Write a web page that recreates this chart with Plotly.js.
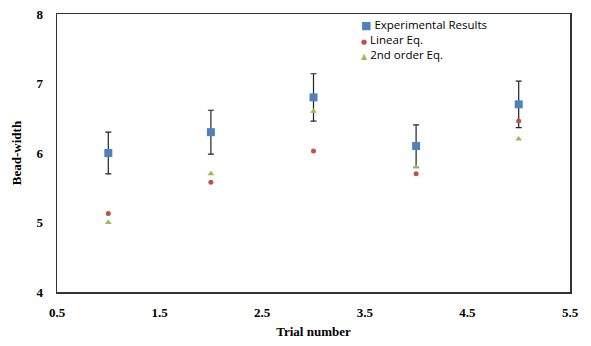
<!DOCTYPE html>
<html>
<head>
<meta charset="utf-8">
<script src="https://cdn.plot.ly/plotly-3.0.1.min.js"></script>
<style>html,body{margin:0;padding:0;background:#fff;}#chart{width:591px;height:346px;}</style>
</head>
<body>
<div id="chart"></div>
<script>
const trials = [1, 2, 3, 4, 5];
const experimental = [6.0, 6.3, 6.8, 6.1, 6.7];
const experimentalErr = [0.30, 0.315, 0.34, 0.305, 0.335];
const linearEq = [5.13, 5.58, 6.03, 5.70, 6.46];
const secondOrderEq = [5.0, 5.70, 6.60, 5.80, 6.20];
const xTicks = [0.5, 1.5, 2.5, 3.5, 4.5, 5.5];
const xTickLabels = ['0.5', '1.5', '2.5', '3.5', '4.5', '5.5'];
const yTicks = [4, 5, 6, 7, 8];
const seriesNames = ['Experimental Results', 'Linear Eq.', '2nd order Eq.'];
const seriesColors = ['#4F81BD', '#C0504D', '#9BBB59'];
const legendGlyphs = ['\u25A0', '\u25CF', '\u25B2'];
const legendGlyphSizes = [11, 7, 8];

const traces = [
  {
    x: trials, y: experimental, name: seriesNames[0], type: 'scatter', mode: 'markers',
    marker: {symbol: 'square', size: 8, color: seriesColors[0]},
    error_y: {type: 'data', array: experimentalErr, visible: true, color: '#222', thickness: 1.2, width: 3}
  },
  {
    x: trials, y: linearEq, name: seriesNames[1], type: 'scatter', mode: 'markers',
    marker: {symbol: 'circle', size: 5, color: seriesColors[1]}
  },
  {
    x: trials, y: secondOrderEq, name: seriesNames[2], type: 'scatter', mode: 'markers',
    marker: {symbol: 'triangle-up', size: 6, color: seriesColors[2]}
  }
];

const serifBold = {family: 'Liberation Serif, Times New Roman, serif', size: 13, color: '#000', weight: 'bold'};

// legend drawn as one multi-line annotation (compact Excel-style spacing)
const legendText = seriesNames.map((n, i) =>
  '<span style="color:' + seriesColors[i] + ';font-size:' + legendGlyphSizes[i] + 'px;font-family:DejaVu Sans">' + legendGlyphs[i] + '</span> ' + n
).join('<br>');

const layout = {
  width: 591, height: 346,
  margin: {l: 57, r: 21, t: 14, b: 54},
  paper_bgcolor: '#fff', plot_bgcolor: '#fff',
  showlegend: false,
  annotations: [{
    xref: 'paper', yref: 'paper', x: 0.589, y: 0.910, xanchor: 'left', yanchor: 'middle',
    align: 'left', showarrow: false, text: legendText,
    font: {family: 'Open Sans, Noto Sans, sans-serif', size: 11.5, color: '#000'}
  }],
  xaxis: {
    range: [0.5, 5.5], tickvals: xTicks, ticktext: xTickLabels,
    showgrid: false, zeroline: false,
    showline: true, linecolor: '#333', linewidth: 1.5, mirror: true,
    ticks: '', tickfont: serifBold, ticklabelstandoff: 8,
    title: {text: 'Trial number', font: serifBold, standoff: 8}
  },
  yaxis: {
    range: [4, 8], tickvals: yTicks,
    showgrid: false, zeroline: false,
    showline: true, linecolor: '#333', linewidth: 1.5, mirror: true,
    ticks: '', tickfont: serifBold, ticklabelstandoff: 10,
    title: {text: 'Bead-width', font: serifBold, standoff: 12}
  }
};

Plotly.newPlot('chart', traces, layout, {displayModeBar: false, staticPlot: true});
</script>
</body>
</html>
